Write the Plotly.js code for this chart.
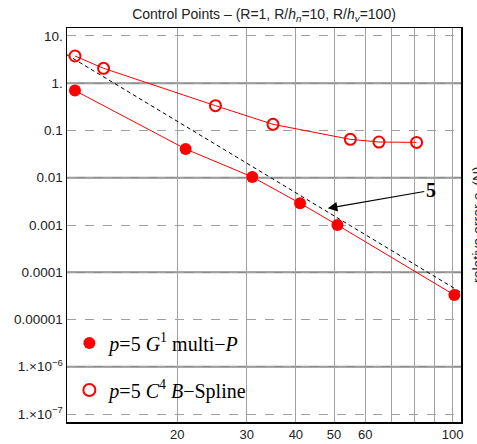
<!DOCTYPE html>
<html><head><meta charset="utf-8">
<script src="https://cdn.plot.ly/plotly-3.0.1.min.js"></script>
<style>html,body{margin:0;padding:0;background:#fff}#chart{width:477px;height:444px}</style>
</head><body><div id="chart"></div>
<script>
// ---- data ----
const gmpN   = [11, 21, 31, 41, 51, 101];
const gmpErr = [0.70, 0.0406, 0.0104, 0.00288, 0.00100, 3.3e-5];
const bsN    = [11, 13, 25, 35, 55, 65, 81];
const bsErr  = [3.77, 2.07, 0.335, 0.135, 0.065, 0.057, 0.056];
const slopeRefN   = [10.5, 105];
const slopeRefErr = [4.0, 3.75e-5];
const gmpName = "<i>p</i>=5 <i>G</i><sup>1</sup> multi\u2212<i>P</i>";
const bsName  = "<i>p</i>=5 <i>C</i><sup>4</sup> <i>B</i>\u2212Spline";
const xTickVals = [20, 30, 40, 50, 60, 100];
const xTickText = ["20", "30", "40", "50", "60", "100"];
const xMinorGridVals = [70, 80, 90];
const yTickVals = [1e-7, 1e-6, 1e-5, 1e-4, 1e-3, 1e-2, 1e-1, 1, 10];
const yTickText = ["1.\u00d710<sup>\u22127</sup>", "1.\u00d710<sup>\u22126</sup>", "0.00001", "0.0001", "0.001", "0.01", "0.1", "1.", "10."];
const solidGridVals = [1e-6, 1e-4, 1e-2, 1];
const slopeLabel = "<b>5</b>";
const slopeArrowN = 48.2;
const slopeArrowErr = 0.00225;
const titleText = "Control Points \u2013 (R=1, R/<i>h</i><sub><i>n</i></sub>=10, R/<i>h</i><sub><i>v</i></sub>=100)";
const yTitleText = "relative error <i>e</i><sub>\u221e</sub>(N)";

const sans = "Liberation Sans, Arial, sans-serif";
const serif = "Liberation Serif, Times New Roman, serif";

const redLine = {color: "#ff0000", width: 1};
const filledMarker = {symbol: "circle", size: 12, color: "#ff0000", line: {width: 0}};
const openMarker = {symbol: "circle-open", size: 11, color: "#ff0000", line: {width: 2, color: "#ff0000"}};

const traces = [
  {x: slopeRefN, y: slopeRefErr, mode: "lines", showlegend: false, hoverinfo: "skip",
   line: {color: "#000", width: 1, dash: "4px,3px"}},
  {x: gmpN, y: gmpErr, mode: "lines", showlegend: false, line: redLine},
  {x: bsN, y: bsErr, mode: "lines", showlegend: false, line: redLine},
  {x: gmpN, y: gmpErr, mode: "markers", name: gmpName, legendgroup: "a", marker: filledMarker},
  {x: bsN, y: bsErr, mode: "markers", name: bsName, legendgroup: "b", marker: openMarker}
];

const shapes = solidGridVals.map(v => ({
  type: "line", xref: "paper", x0: 0, x1: 1, yref: "y", y0: v, y1: v,
  layer: "below", line: {color: "#8c8c8c", width: 2}
}));

const layout = {
  width: 477, height: 444,
  margin: {l: 67, r: 16, t: 28, b: 22, pad: 0},
  paper_bgcolor: "#fff", plot_bgcolor: "#fff",
  font: {family: sans, size: 13, color: "#222"},
  title: {text: titleText, x: 0.5, xref: "paper", y: 0.968, yref: "container", yanchor: "middle",
          font: {family: sans, size: 14, color: "#222"}},
  xaxis: {type: "log", range: [Math.log10(10.5), Math.log10(105)],
          tickmode: "array", tickvals: xTickVals, ticktext: xTickText, ticks: "",
          showgrid: true, gridcolor: "#a0a0a0", gridwidth: 1,
          minor: {tickmode: "array", tickvals: xMinorGridVals, showgrid: true, gridcolor: "#a0a0a0", gridwidth: 1, ticks: ""},
          showline: true, linecolor: "#000", linewidth: 1.5, mirror: true,
          zeroline: false, tickfont: {family: sans, size: 13, color: "#222"}},
  yaxis: {type: "log", range: [-7.169, 1.169],
          tickmode: "array", tickvals: yTickVals, ticktext: yTickText, ticks: "",
          showgrid: true, gridcolor: "#a0a0a0", gridwidth: 1, griddash: "dash",
          showline: true, linecolor: "#000", linewidth: 1.5, mirror: true,
          zeroline: false, tickfont: {family: sans, size: 13.5, color: "#222"}},
  shapes: shapes,
  showlegend: true,
  legend: {x: 0.006, xanchor: "left", y: 0.25, yanchor: "top", bgcolor: "rgba(0,0,0,0)",
           font: {family: serif, size: 20, color: "#000"}, tracegroupgap: 18, itemsizing: "constant"},
  annotations: [
    {x: Math.log10(slopeArrowN), y: Math.log10(slopeArrowErr), xref: "x", yref: "y",
     text: slopeLabel, showarrow: true, ax: 103, ay: -18,
     arrowhead: 2, arrowsize: 1.6, arrowwidth: 1.2, arrowcolor: "#000",
     font: {family: serif, size: 20, color: "#000"}},
    {xref: "paper", yref: "paper", x: 1, y: 0.5, xanchor: "left", yanchor: "middle", xshift: 7,
     textangle: -90, showarrow: false, text: yTitleText,
     font: {family: sans, size: 14, color: "#222"}}
  ]
};

Plotly.newPlot("chart", traces, layout, {displayModeBar: false, staticPlot: true});
</script>
</body></html>
